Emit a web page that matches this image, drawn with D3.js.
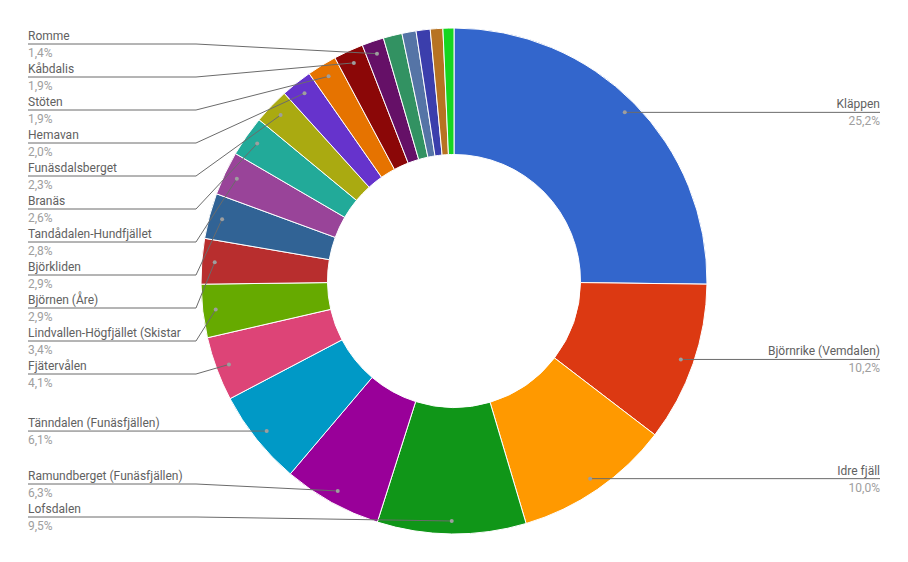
<!DOCTYPE html>
<html>
<head>
<meta charset="utf-8">
<script src="https://cdn.jsdelivr.net/npm/d3@7"></script>
<style>
  html, body { margin: 0; padding: 0; background: #fff; }
  svg { display: block; font-family: Roboto, "Noto Sans", Arial, sans-serif; }
</style>
</head>
<body>
<svg id="chart" width="908" height="562"></svg>
<script>
// ---- data (share in %, in slice order clockwise from 12 o'clock) ----
const categories = [
  "Kläppen", "Björnrike (Vemdalen)", "Idre fjäll", "Lofsdalen",
  "Ramundberget (Funäsfjällen)", "Tänndalen (Funäsfjällen)", "Fjätervålen",
  "Lindvallen-Högfjället (Skistar", "Björnen (Åre)", "Björkliden",
  "Tandådalen-Hundfjället", "Branäs", "Funäsdalsberget", "Hemavan",
  "Stöten", "Kåbdalis", "Romme", "", "", "", "", ""
];
const values = [
  25.2, 10.2, 10.0, 9.5,
  6.3, 6.1, 4.1,
  3.4, 2.9, 2.9,
  2.8, 2.6, 2.3, 2.0,
  1.9, 1.9, 1.4, 1.2, 0.9, 0.9, 0.8, 0.7
];
const colors = [
  "#3366cc", "#dc3912", "#ff9900", "#109618", "#990099", "#0099c6",
  "#dd4477", "#66aa00", "#b82e2e", "#316395", "#994499", "#22aa99",
  "#aaaa11", "#6633cc", "#e67300", "#8b0707", "#651067", "#329262",
  "#5574a6", "#3b3eac", "#b77322", "#16d620"
];

// ---- layout ----
const W = 908, H = 562;
const cx = 454, cy = 281;
const R = 253, r = 126.5;
const dotR = R - 13;
const leftX = 28, rightX = 880;
const leftBend = 196, rightBend = W - 196;
const gap = 33, topY = 44, bottomY = 517;

const svg = d3.select("#chart");
const sv = d3.formatLocale({decimal: ",", thousands: "\u00a0", grouping: [3], currency: ["", " kr"]});
const pct = sv.format(".1%");
const total = d3.sum(values);

const data = categories.map((c, i) => ({name: c, value: values[i], color: colors[i]}));
const pie = d3.pie().value(d => d.value).sort(null).startAngle(0).endAngle(2 * Math.PI);
const arcs = pie(data);
const arc = d3.arc().innerRadius(r).outerRadius(R);

const g = svg.append("g").attr("transform", `translate(${cx},${cy})`);
g.selectAll("path.slice").data(arcs).join("path")
  .attr("class", "slice")
  .attr("d", arc)
  .attr("fill", d => d.data.color)
  .attr("stroke", "#fff")
  .attr("stroke-width", 1);

// ---- labels ----
const labeled = arcs.filter(a => a.data.name !== "").map(a => {
  const mid = (a.startAngle + a.endAngle) / 2;
  const dx = cx + Math.sin(mid) * dotR;
  const dy = cy - Math.cos(mid) * dotR;
  return {a, mid, dx, dy, side: mid > Math.PI ? "left" : "right", y: dy};
});

function place(items) {
  items.sort((p, q) => p.dy - q.dy);
  let clusters = [];
  items.forEach(it => {
    let c = {items: [it]};
    c.pos = () => {
      const m = d3.mean(c.items, (d, i) => d.dy - i * gap);
      const maxStart = bottomY - (c.items.length - 1) * gap;
      return Math.max(topY, Math.min(maxStart, m));
    };
    c.start = c.pos();
    clusters.push(c);
    while (clusters.length > 1) {
      const cur = clusters[clusters.length - 1];
      const prev = clusters[clusters.length - 2];
      if (prev.start + prev.items.length * gap > cur.start) {
        prev.items = prev.items.concat(cur.items);
        prev.start = prev.pos();
        clusters.pop();
      } else break;
    }
  });
  clusters.forEach(c => c.items.forEach((it, i) => { it.y = c.start + i * gap; }));
}
place(labeled.filter(d => d.side === "left"));
place(labeled.filter(d => d.side === "right"));

const lg = svg.append("g");
labeled.forEach(d => {
  const left = d.side === "left";
  const x0 = left ? leftX : rightX;
  const xb = left ? leftBend : rightBend;
  lg.append("path")
    .attr("d", d3.line()([[x0, d.y], [xb, d.y], [d.dx, d.dy]]))
    .attr("fill", "none")
    .attr("stroke", "#6b6b6b")
    .attr("stroke-width", 1);
  lg.append("circle")
    .attr("cx", d.dx).attr("cy", d.dy).attr("r", 2)
    .attr("fill", "#9e9e9e");
  lg.append("text")
    .attr("x", x0).attr("y", d.y - 4)
    .attr("text-anchor", left ? "start" : "end")
    .attr("font-size", 12)
    .attr("fill", "#616161")
    .text(d.a.data.name);
  lg.append("text")
    .attr("x", x0).attr("y", d.y + 13)
    .attr("text-anchor", left ? "start" : "end")
    .attr("font-size", 12)
    .attr("fill", "#9e9e9e")
    .text(pct(d.a.data.value / total));
});
</script>
</body>
</html>
